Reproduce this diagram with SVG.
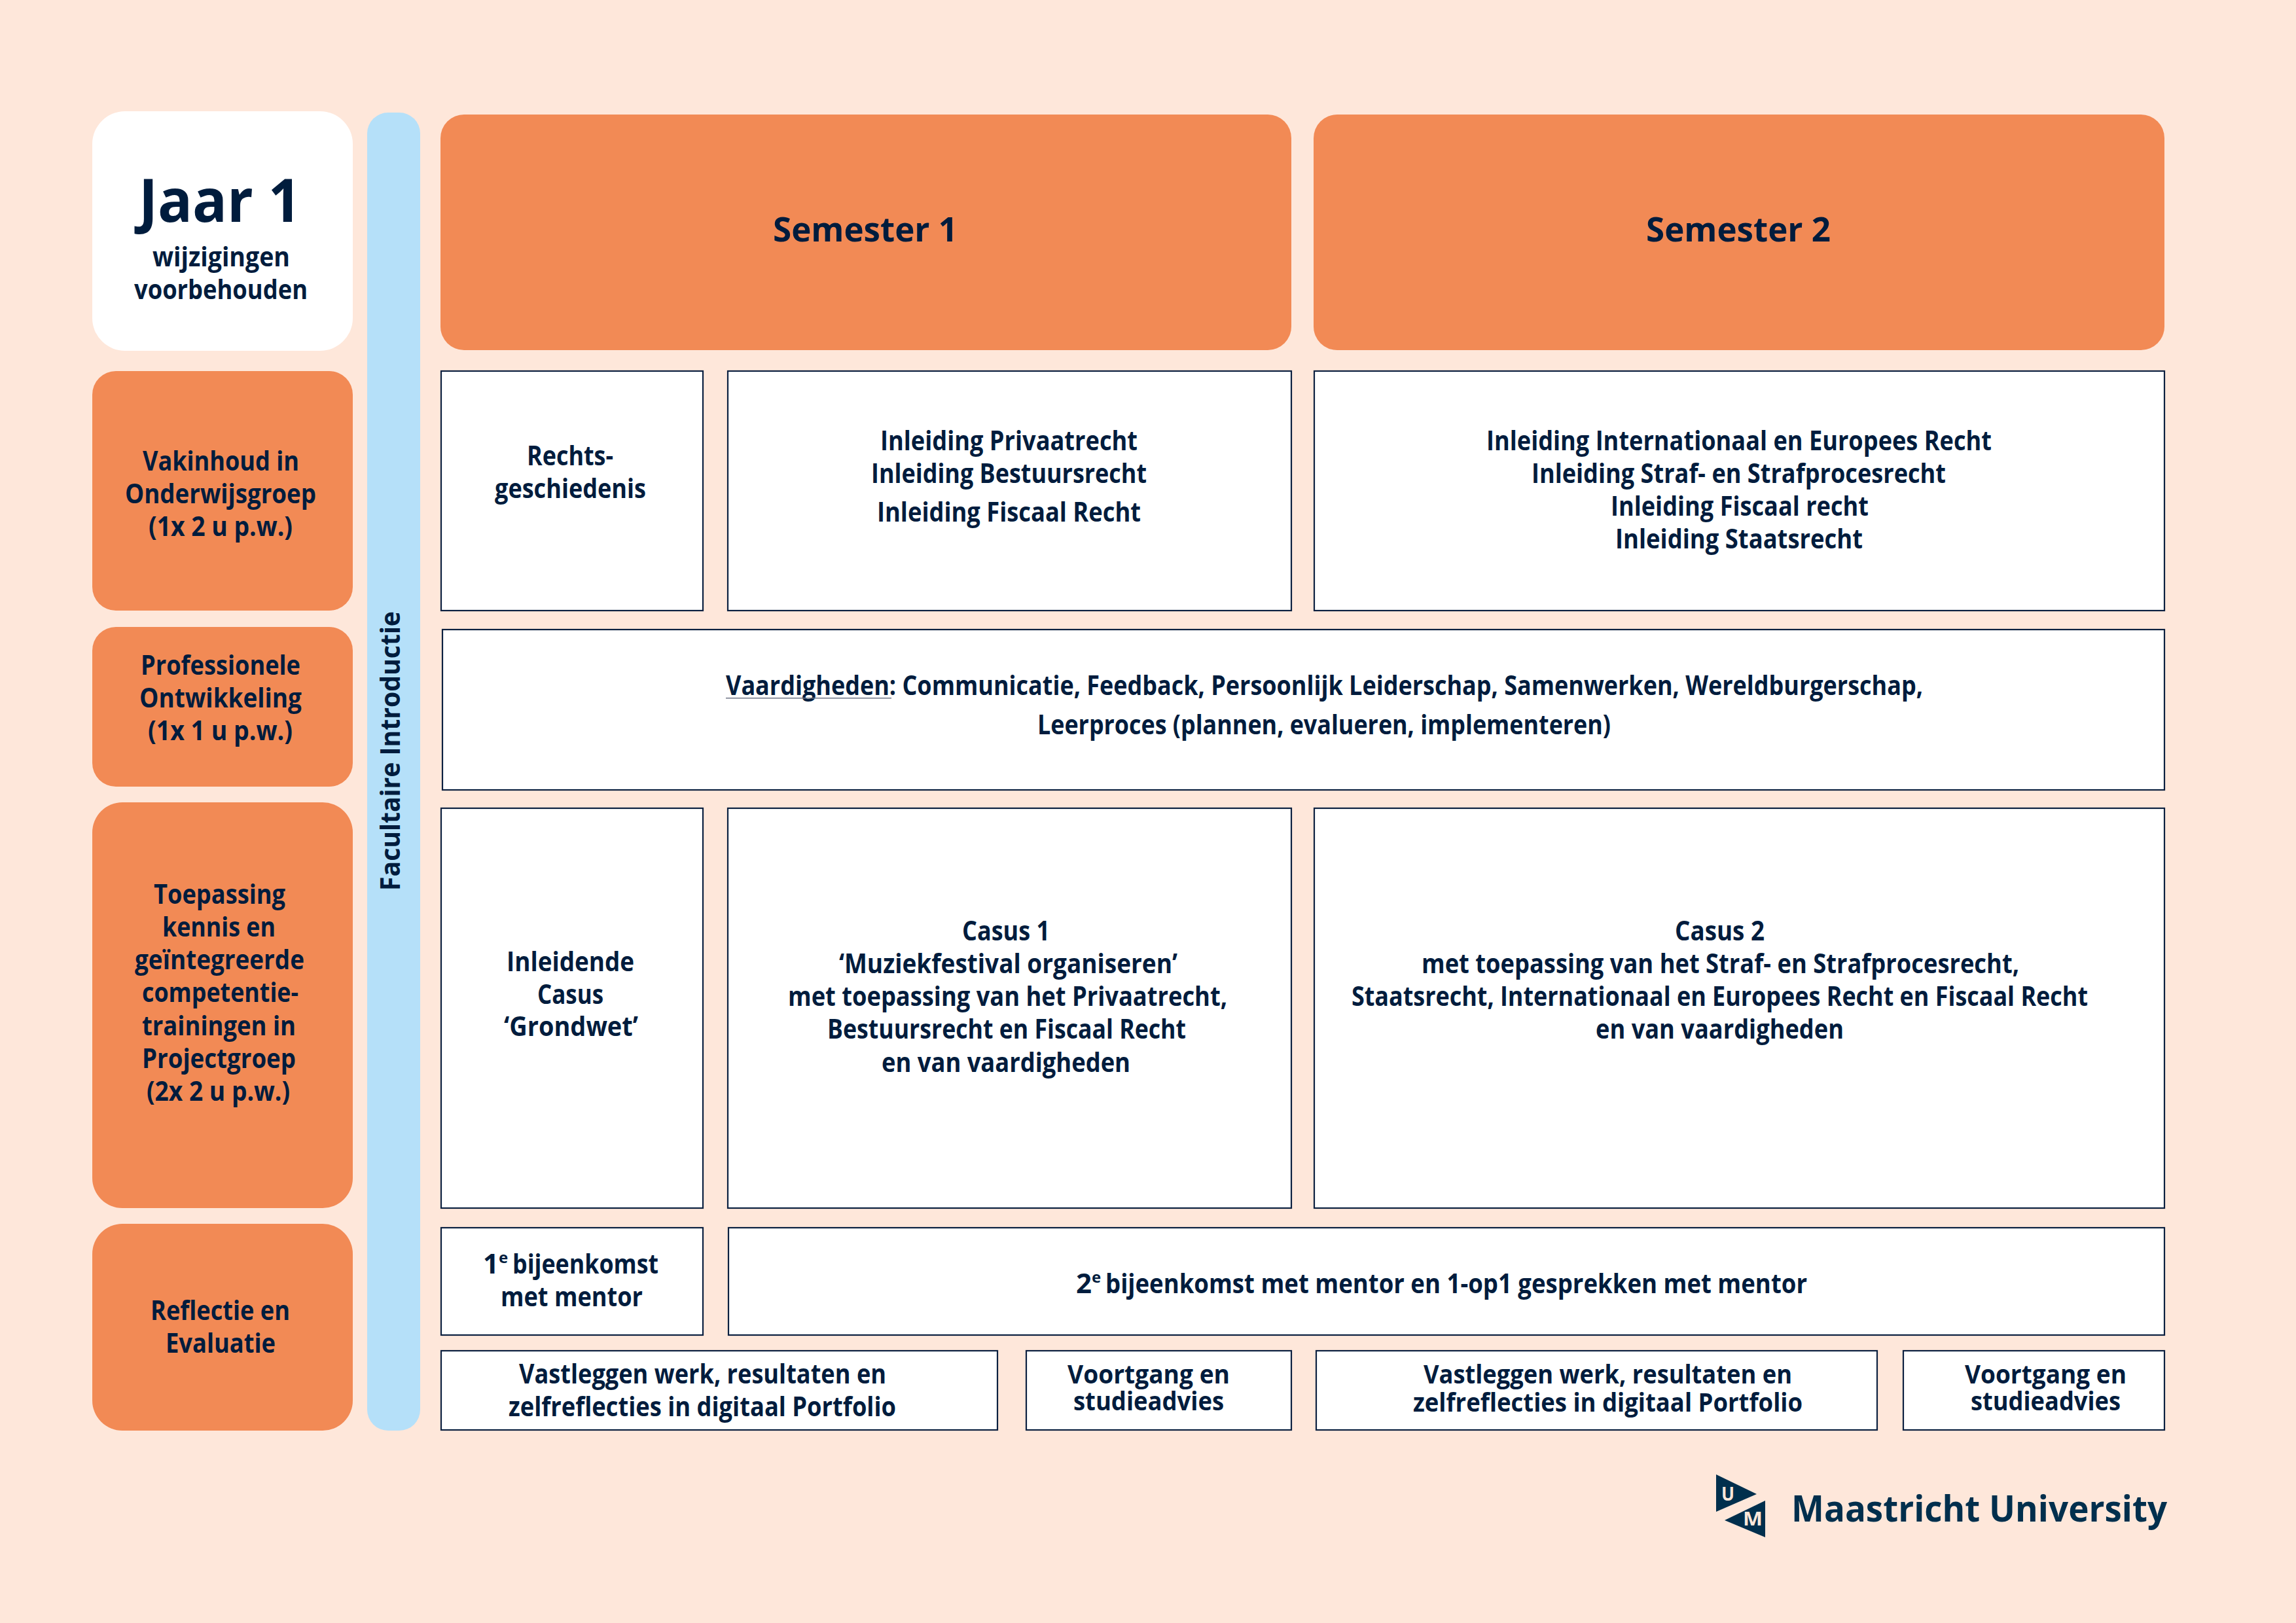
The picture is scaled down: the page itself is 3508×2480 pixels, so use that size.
<svg xmlns="http://www.w3.org/2000/svg" width="3508" height="2480" viewBox="0 0 3508 2480">
<style>
text{font-family:"Open Sans","Noto Sans","Liberation Sans",sans-serif;font-weight:700;font-size:42px;fill:#001c3d}
.o{fill:#f28a55}
.w{fill:#fff;stroke:#0b2040;stroke-width:2.2}
.j{font-size:92px}
.s{font-size:52px}
.m{fill:#002f4d;font-size:56px}
.sup{font-size:24px}
.t{font-size:39px}
.l{font-size:28px;fill:#fee7da}
</style>
<rect width="3508" height="2480" fill="#fee7da"/>
<g id="jaar">
<rect x="141" y="170" width="398" height="366" rx="50" fill="#fff"/>
<text class="j" x="212" y="339" textLength="248" lengthAdjust="spacingAndGlyphs">Jaar 1</text>
<text x="233" y="407" textLength="210" lengthAdjust="spacingAndGlyphs">wijzigingen</text>
<text x="205" y="457" textLength="265" lengthAdjust="spacingAndGlyphs">voorbehouden</text>
</g>
<g id="introductie">
<rect x="561" y="172" width="81" height="2014" rx="32" fill="#b5e0f9"/>
<text transform="translate(611,1361) rotate(-90)" textLength="427" lengthAdjust="spacingAndGlyphs">Facultaire Introductie</text>
</g>
<g id="semester1">
<rect class="o" x="673" y="175" width="1300" height="360" rx="36"/>
<text class="s" x="1181" y="369" textLength="282" lengthAdjust="spacingAndGlyphs">Semester 1</text>
</g>
<g id="semester2">
<rect class="o" x="2007" y="175" width="1300" height="360" rx="36"/>
<text class="s" x="2515" y="369" textLength="282" lengthAdjust="spacingAndGlyphs">Semester 2</text>
</g>
<g id="vakinhoud">
<rect class="o" x="141" y="567" width="398" height="366" rx="36"/>
<text x="218" y="719" textLength="239" lengthAdjust="spacingAndGlyphs">Vakinhoud in</text>
<text x="191" y="769" textLength="292" lengthAdjust="spacingAndGlyphs">Onderwijsgroep</text>
<text x="227" y="819" textLength="220" lengthAdjust="spacingAndGlyphs">(1x 2 u p.w.)</text>
</g>
<g id="rechtsgeschiedenis">
<rect class="w" x="674" y="567" width="400" height="366"/>
<text x="805" y="711" textLength="132" lengthAdjust="spacingAndGlyphs">Rechts-</text>
<text x="756" y="761" textLength="231" lengthAdjust="spacingAndGlyphs">geschiedenis</text>
</g>
<g id="inleiding1">
<rect class="w" x="1112" y="567" width="861" height="366"/>
<text x="1345" y="688" textLength="393" lengthAdjust="spacingAndGlyphs">Inleiding Privaatrecht</text>
<text x="1331" y="738" textLength="421" lengthAdjust="spacingAndGlyphs">Inleiding Bestuursrecht</text>
<text x="1340" y="797" textLength="403" lengthAdjust="spacingAndGlyphs">Inleiding Fiscaal Recht</text>
</g>
<g id="inleiding2">
<rect class="w" x="2008" y="567" width="1299" height="366"/>
<text x="2271" y="688" textLength="772" lengthAdjust="spacingAndGlyphs">Inleiding Internationaal en Europees Recht</text>
<text x="2340" y="738" textLength="633" lengthAdjust="spacingAndGlyphs">Inleiding Straf- en Strafprocesrecht</text>
<text x="2461" y="788" textLength="394" lengthAdjust="spacingAndGlyphs">Inleiding Fiscaal recht</text>
<text x="2468" y="838" textLength="378" lengthAdjust="spacingAndGlyphs">Inleiding Staatsrecht</text>
</g>
<g id="professionele">
<rect class="o" x="141" y="958" width="398" height="244" rx="36"/>
<text x="215" y="1031" textLength="244" lengthAdjust="spacingAndGlyphs">Professionele</text>
<text x="213" y="1081" textLength="248" lengthAdjust="spacingAndGlyphs">Ontwikkeling</text>
<text x="226" y="1131" textLength="221" lengthAdjust="spacingAndGlyphs">(1x 1 u p.w.)</text>
</g>
<g id="vaardigheden">
<rect class="w" x="676" y="962" width="2631" height="245"/>
<text x="1109" y="1062" textLength="1829" lengthAdjust="spacingAndGlyphs">Vaardigheden: Communicatie, Feedback, Persoonlijk Leiderschap, Samenwerken, Wereldburgerschap,</text>
<rect x="1109" y="1066" width="253" height="1.5" fill="#6f7585"/>
<text x="1585" y="1122" textLength="876" lengthAdjust="spacingAndGlyphs">Leerproces (plannen, evalueren, implementeren)</text>
</g>
<g id="toepassing">
<rect class="o" x="141" y="1226" width="398" height="620" rx="46"/>
<text x="235" y="1381" textLength="201" lengthAdjust="spacingAndGlyphs">Toepassing</text>
<text x="248" y="1431" textLength="173" lengthAdjust="spacingAndGlyphs">kennis en</text>
<text x="206" y="1481" textLength="259" lengthAdjust="spacingAndGlyphs">geïntegreerde</text>
<text x="217" y="1531" textLength="239" lengthAdjust="spacingAndGlyphs">competentie-</text>
<text x="217" y="1582" textLength="235" lengthAdjust="spacingAndGlyphs">trainingen in</text>
<text x="217" y="1632" textLength="235" lengthAdjust="spacingAndGlyphs">Projectgroep</text>
<text x="224" y="1682" textLength="219" lengthAdjust="spacingAndGlyphs">(2x 2 u p.w.)</text>
</g>
<g id="inleidende-casus">
<rect class="w" x="674" y="1235" width="400" height="611"/>
<text x="774" y="1484" textLength="195" lengthAdjust="spacingAndGlyphs">Inleidende</text>
<text x="821" y="1534" textLength="101" lengthAdjust="spacingAndGlyphs">Casus</text>
<text x="770" y="1583" textLength="205" lengthAdjust="spacingAndGlyphs">‘Grondwet’</text>
</g>
<g id="casus1">
<rect class="w" x="1112" y="1235" width="861" height="611"/>
<text x="1470" y="1437" textLength="134" lengthAdjust="spacingAndGlyphs">Casus 1</text>
<text x="1282" y="1487" textLength="517" lengthAdjust="spacingAndGlyphs">‘Muziekfestival organiseren’</text>
<text x="1204" y="1537" textLength="671" lengthAdjust="spacingAndGlyphs">met toepassing van het Privaatrecht,</text>
<text x="1264" y="1587" textLength="548" lengthAdjust="spacingAndGlyphs">Bestuursrecht en Fiscaal Recht</text>
<text x="1347" y="1638" textLength="380" lengthAdjust="spacingAndGlyphs">en van vaardigheden</text>
</g>
<g id="casus2">
<rect class="w" x="2008" y="1235" width="1299" height="611"/>
<text x="2559" y="1437" textLength="137" lengthAdjust="spacingAndGlyphs">Casus 2</text>
<text x="2172" y="1487" textLength="913" lengthAdjust="spacingAndGlyphs">met toepassing van het Straf- en Strafprocesrecht,</text>
<text x="2065" y="1537" textLength="1125" lengthAdjust="spacingAndGlyphs">Staatsrecht, Internationaal en Europees Recht en Fiscaal Recht</text>
<text x="2438" y="1587" textLength="379" lengthAdjust="spacingAndGlyphs">en van vaardigheden</text>
</g>
<g id="reflectie">
<rect class="o" x="141" y="1870" width="398" height="316" rx="46"/>
<text x="230" y="2017" textLength="213" lengthAdjust="spacingAndGlyphs">Reflectie en</text>
<text x="253" y="2067" textLength="168" lengthAdjust="spacingAndGlyphs">Evaluatie</text>
</g>
<g id="bijeenkomst1">
<rect class="w" x="674" y="1876" width="400" height="164"/>
<text x="738" y="1946">1<tspan class="sup" dy="-16">e</tspan><tspan dy="16" textLength="223" lengthAdjust="spacingAndGlyphs" x="783">bijeenkomst</tspan></text>
<text x="765" y="1996" textLength="217" lengthAdjust="spacingAndGlyphs">met mentor</text>
</g>
<g id="bijeenkomst2">
<rect class="w" x="1113" y="1876" width="2194" height="164"/>
<text x="1644" y="1976">2<tspan class="sup" dy="-16">e</tspan><tspan dy="16" x="1689" textLength="1072" lengthAdjust="spacingAndGlyphs">bijeenkomst met mentor en 1-op1 gesprekken met mentor</tspan></text>
</g>
<g id="portfolio1">
<rect class="w" x="674" y="2064" width="850" height="121"/>
<text x="793" y="2114" textLength="561" lengthAdjust="spacingAndGlyphs">Vastleggen werk, resultaten en</text>
<text x="777" y="2164" textLength="592" lengthAdjust="spacingAndGlyphs">zelfreflecties in digitaal Portfolio</text>
</g>
<g id="voortgang1">
<rect class="w" x="1568" y="2064" width="405" height="121"/>
<text class="t" x="1631" y="2114" textLength="248" lengthAdjust="spacingAndGlyphs">Voortgang en</text>
<text class="t" x="1640" y="2155" textLength="230" lengthAdjust="spacingAndGlyphs">studieadvies</text>
</g>
<g id="portfolio2">
<rect class="w" x="2011" y="2064" width="857" height="121"/>
<text class="t" x="2175" y="2114" textLength="563" lengthAdjust="spacingAndGlyphs">Vastleggen werk, resultaten en</text>
<text class="t" x="2159" y="2157" textLength="595" lengthAdjust="spacingAndGlyphs">zelfreflecties in digitaal Portfolio</text>
</g>
<g id="voortgang2">
<rect class="w" x="2908" y="2064" width="399" height="121"/>
<text class="t" x="3002" y="2114" textLength="247" lengthAdjust="spacingAndGlyphs">Voortgang en</text>
<text class="t" x="3011" y="2155" textLength="229" lengthAdjust="spacingAndGlyphs">studieadvies</text>
</g>
<g id="logo">
<polygon points="2622,2253 2684,2283 2622,2310" fill="#002f4d"/>
<polygon points="2697,2293 2635,2323 2697,2349" fill="#002f4d"/>
<text class="l" x="2630" y="2293" textLength="20" lengthAdjust="spacingAndGlyphs">U</text>
<text class="l" x="2663" y="2331" textLength="30" lengthAdjust="spacingAndGlyphs">M</text>
<text class="m" x="2737" y="2325" textLength="574" lengthAdjust="spacingAndGlyphs">Maastricht University</text>
</g>
</svg>
